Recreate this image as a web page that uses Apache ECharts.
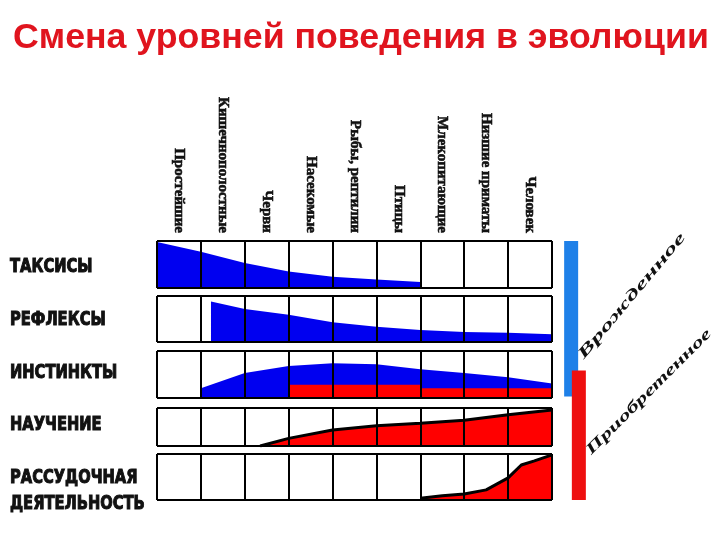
<!DOCTYPE html>
<html>
<head>
<meta charset="utf-8">
<script src="https://cdn.jsdelivr.net/npm/echarts@6/dist/echarts.min.js"></script>
<style>
  html, body { margin: 0; padding: 0; background: #fff; }
  #chart { width: 720px; height: 540px; }
</style>
</head>
<body>
<div id="chart"></div>
<script>
  // столбцы - группы животных
  const animals = ['Простейшие', 'Кишечнополостные', 'Черви', 'Насекомые', 'Рыбы, рептилии',
    'Птицы', 'Млекопитающие', 'Низшие приматы', 'Человек'];
  // строки - уровни поведения
  const levels = ['ТАКСИСЫ', 'РЕФЛЕКСЫ', 'ИНСТИНКТЫ', 'НАУЧЕНИЕ', 'РАССУДОЧНАЯ\nДЕЯТЕЛЬНОСТЬ'];

  // доля уровня поведения, [номер столбца, высота 0..1]
  const taxis = [[0, 0.98], [1, 0.77], [2, 0.53], [3, 0.35], [4, 0.24], [5, 0.18], [6, 0.13], [6, 0]];
  const reflexes = [[1.23, 0], [1.23, 0.88], [2, 0.72], [3, 0.59], [4, 0.43], [5, 0.33], [6, 0.26], [7, 0.22], [8, 0.2], [9, 0.17]];
  const instincts = [[1, 0], [1, 0.21], [2, 0.53], [3, 0.68], [4, 0.74], [5, 0.72], [6, 0.61], [7, 0.53], [8, 0.44], [9, 0.31]];
  const instinctsAcquired = [[3, 0], [3, 0.28], [6, 0.28], [6, 0.21], [9, 0.21]];
  const learning = [[2.35, 0], [3, 0.2], [4, 0.42], [5, 0.53], [6, 0.6], [7, 0.68], [8, 0.82], [9, 0.95]];
  const reasoning = [[6, 0.04], [6.5, 0.09], [7, 0.13], [7.5, 0.22], [8, 0.48], [8.3, 0.76], [8.6, 0.85], [9, 0.98]];

  // врожденное / приобретенное - в строках (0..5)
  const innateSpan = [0, 3];
  const acquiredSpan = [2.5, 5];

  const BLUE = '#0000f0';
  const RED = '#ff0000';

  const rowTops = [241, 296, 351, 408, 454];
  const rowHeights = [47, 46, 47, 38, 46];
  const labelY = [265, 318, 371, 423, 489];

  const grids = [];
  const xAxes = [];
  const yAxes = [];
  rowTops.forEach(function (top, i) {
    grids.push({left: 157, width: 395, top: top, height: rowHeights[i]});
    xAxes.push({
      gridIndex: i, type: 'value', min: 0, max: 9, interval: 1, z: 5,
      axisLine: {show: false}, axisTick: {show: false}, axisLabel: {show: false},
      splitLine: {show: true, lineStyle: {color: '#000', width: 2}}
    });
    yAxes.push({
      gridIndex: i, type: 'value', min: 0, max: 1, interval: 1, z: 5,
      axisLine: {show: false}, axisTick: {show: false}, axisLabel: {show: false},
      splitLine: {show: true, lineStyle: {color: '#000', width: 2}}
    });
  });
  // полосы справа (xAxis 5, yAxis 5)
  grids.push({left: 563, width: 24, top: 241, height: 259});
  xAxes.push({gridIndex: 5, type: 'category', data: ['span'], show: false});
  yAxes.push({gridIndex: 5, type: 'value', min: 0, max: 5, inverse: true, show: false});
  // подписи столбцов сверху (xAxis 6)
  xAxes.push({
    gridIndex: 0, type: 'category', position: 'top', data: animals, boundaryGap: true,
    axisLine: {show: false}, axisTick: {show: false}, splitLine: {show: false},
    axisLabel: {
      interval: 0, rotate: 90, margin: 8, color: '#111',
      fontFamily: 'Liberation Serif', fontWeight: 'bold', fontSize: 15,
      textBorderColor: '#111', textBorderWidth: 0.6
    }
  });

  function area(idx, data, color, edge) {
    return {
      type: 'line', xAxisIndex: idx, yAxisIndex: idx, data: data,
      symbol: 'none', silent: true,
      lineStyle: {color: edge || color, width: edge ? 3 : 0},
      areaStyle: {color: color, opacity: 1}
    };
  }

  function spanPart(stack, value, color) {
    return {
      type: 'bar', xAxisIndex: 5, yAxisIndex: 5, stack: stack, data: [value],
      barWidth: 14, barGap: '-45%', clip: false, silent: true,
      itemStyle: {color: color}
    };
  }

  const series = [
    area(0, taxis, BLUE),
    area(1, reflexes, BLUE),
    area(2, instincts, BLUE),
    area(2, instinctsAcquired, RED),
    area(3, learning, RED, '#000'),
    area(4, reasoning, RED, '#000'),
    spanPart('innate', innateSpan[0], 'transparent'),
    spanPart('innate', innateSpan[1] - innateSpan[0], '#1e80e8'),
    spanPart('acquired', acquiredSpan[0], 'transparent'),
    spanPart('acquired', acquiredSpan[1] - acquiredSpan[0], '#ee0f0f')
  ];

  const graphics = levels.map(function (name, i) {
    return {
      type: 'text', x: 10, y: labelY[i] - (i === 4 ? 24 : 11), scaleX: 0.86,
      style: {
        text: name, fill: '#111', stroke: '#111', lineWidth: 1, lineHeight: 26,
        font: 'bold 19px "DejaVu Sans Condensed"'
      }
    };
  });
  graphics.push({
    type: 'text', x: 632, y: 296, rotation: 50 * Math.PI / 180, scaleX: 1.9,
    style: {
      text: 'Врожденное', fill: '#111', align: 'center', verticalAlign: 'middle',
      font: 'italic bold 15px "Liberation Serif"'
    }
  });
  graphics.push({
    type: 'text', x: 649, y: 392, rotation: 45 * Math.PI / 180, scaleX: 1.62,
    style: {
      text: 'Приобретенное', fill: '#111', align: 'center', verticalAlign: 'middle',
      font: 'italic bold 15px "Liberation Serif"'
    }
  });

  const chart = echarts.init(document.getElementById('chart'));
  chart.setOption({
    animation: false,
    backgroundColor: '#fff',
    title: {
      text: 'Смена уровней поведения в эволюции', left: 8, top: 15,
      textStyle: {color: '#e0141e', fontSize: 35.7, fontWeight: 'bold', fontFamily: 'Liberation Sans'}
    },
    grid: grids,
    xAxis: xAxes,
    yAxis: yAxes,
    series: series,
    graphic: graphics
  });
</script>
</body>
</html>
